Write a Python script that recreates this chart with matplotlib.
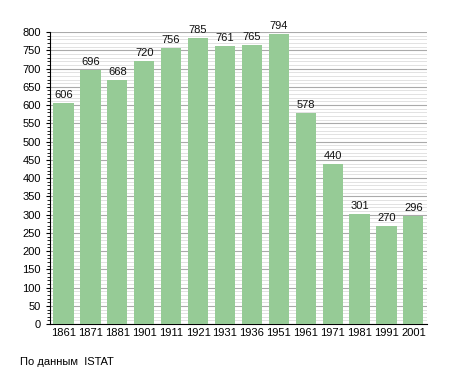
import numpy as np
import matplotlib.pyplot as plt
from matplotlib.ticker import MultipleLocator

plt.rcParams["font.family"] = ["Liberation Sans", "DejaVu Sans"]

years = ["1861", "1871", "1881", "1901", "1911", "1921", "1931", "1936",
         "1951", "1961", "1971", "1981", "1991", "2001"]
population = [606, 696, 668, 720, 756, 785, 761, 765, 794, 578, 440, 301, 270, 296]

fig = plt.figure(figsize=(4.55, 3.73), dpi=100)
ax = fig.add_axes([0.11, 0.131, 0.828, 0.783])

x = np.arange(len(years))
ax.bar(x, population, width=0.75, color="#96cb96", zorder=3)
for xi, v in zip(x, population):
    ax.text(xi, v + 8, str(v), ha="center", va="bottom", fontsize=8, color="#111111")

ax.set_xlim(-0.5, len(years) - 0.5)
ax.set_ylim(0, 800)
ax.set_xticks(x)
ax.set_xticklabels(years, fontsize=8)
ax.yaxis.set_major_locator(MultipleLocator(50))
ax.yaxis.set_minor_locator(MultipleLocator(10))
ax.tick_params(axis="y", labelsize=8, length=3, width=0.8)
ax.tick_params(axis="y", which="minor", length=2, width=0.6)
ax.tick_params(axis="x", length=0, pad=3)
ax.grid(axis="y", which="major", color="#aaaaaa", linewidth=0.8, zorder=0)
ax.grid(axis="y", which="minor", color="#dddddd", linewidth=0.6, zorder=0)
for s in ["top", "right"]:
    ax.spines[s].set_visible(False)

fig.text(0.044, 0.03, "По данным  ISTAT", fontsize=8, ha="left", va="center")

fig.savefig("out.png", dpi=100)
